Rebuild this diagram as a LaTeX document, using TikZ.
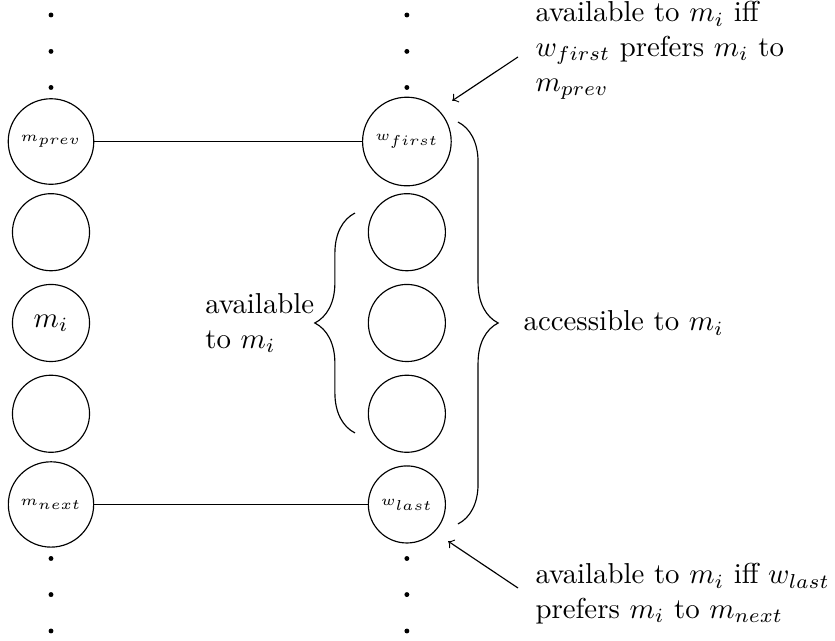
\documentclass[tikz,border=0pt]{standalone}
\usetikzlibrary{arrows,decorations.pathreplacing}

\begin{document}
\begin{tikzpicture}[
    person/.style={draw, circle, minimum size=0.94cm},
    vdot/.style={circle, fill, inner sep=0pt, minimum size=1.7pt},
    brace/.style={decorate, decoration={brace, amplitude=0.49cm}},
    note/.style={text width=3.64cm, align=left, anchor=north west},
  ]
  \useasboundingbox (-0.622,-3.878) rectangle (9.561,3.939);
  % left column
  \node[person] (mprev) at (0,2.213) {\tiny $m_{prev}$};
  \node[person] (m2) at (0,1.107) {};
  \node[person] (mi) at (0,0) {$m_i$};
  \node[person] (m4) at (0,-1.107) {};
  \node[person] (mnext) at (0,-2.213) {\tiny $m_{next}$};
  % right column
  \node[person] (wfirst) at (4.34,2.213) {\tiny $w_{first}$};
  \node[person] (w2) at (4.34,1.107) {};
  \node[person] (w3) at (4.34,0) {};
  \node[person] (w4) at (4.34,-1.107) {};
  \node[person] (wlast) at (4.34,-2.213) {\tiny $w_{last}$};
  % dots above and below
  \foreach \y [count=\k] in {2.872,3.312,3.756} {
    \node[vdot] (mup\k) at (0,\y) {};
    \node[vdot] (wup\k) at (4.34,\y) {};
    \node[vdot] (mdown\k) at (0,-\y) {};
    \node[vdot] (wdown\k) at (4.34,-\y) {};
  }
  \draw (mprev) -- (wfirst);
  \draw (mnext) -- (wlast);
  % braces
  \draw[brace] (3.707,-1.341) -- node[anchor=east, xshift=-0.49cm, inner sep=0pt, align=left] (availlab) {available\\to $m_i$} (3.707,1.341);
  \draw[brace] (4.963,2.451) -- node[anchor=west, xshift=0.677cm] (acclab) {accessible to $m_i$} (4.963,-2.451);
  % notes
  \node[note] (topnote) at (5.785,4.044) {available to $m_i$ iff $w_{first}$ prefers $m_i$ to $m_{prev}$};
  \node[note] (botnote) at (5.785,-2.81) {available to $m_i$ iff $w_{last}$ prefers $m_i$ to $m_{next}$};
  \coordinate (topfrom) at (5.695,3.244);
  \coordinate (botfrom) at (5.695,-3.232);
  \draw[->, shorten >=2mm] (topfrom) -- (wfirst.north east);
  \draw[->, shorten >=2mm] (botfrom) -- (wlast.south east);
\end{tikzpicture}
\end{document}
